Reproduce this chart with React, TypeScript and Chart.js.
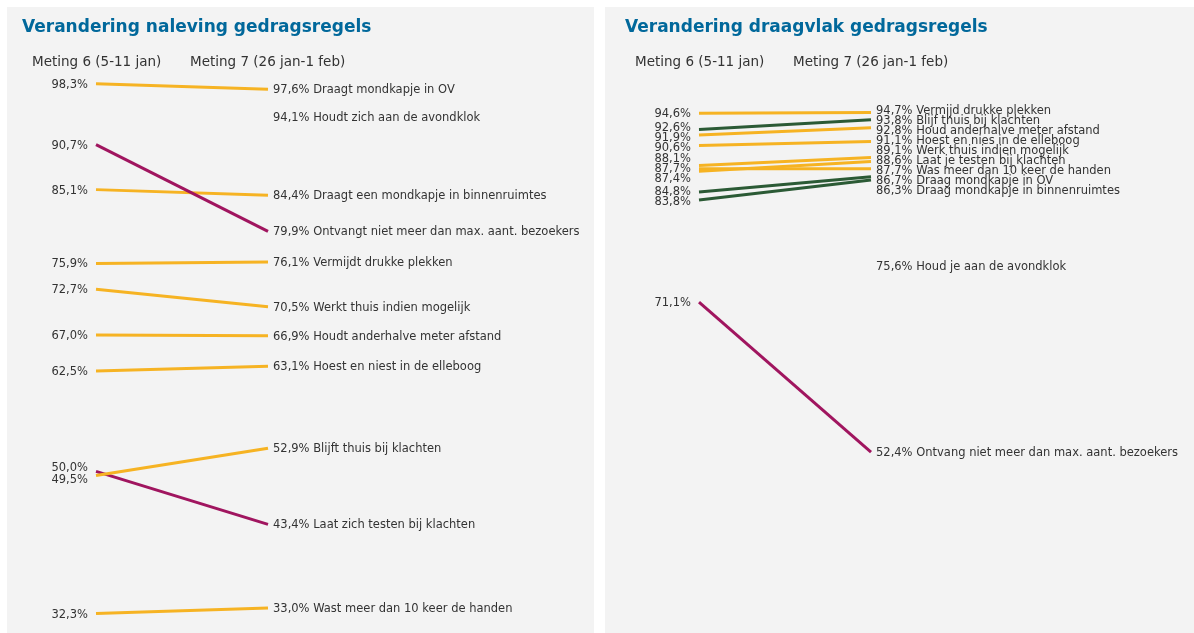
import React, { useEffect, useRef } from 'react';
import { Chart, registerables } from 'chart.js';

Chart.register(...registerables);

// ---------- data ----------
const periods = ['Meting 6 (5-11 jan)', 'Meting 7 (26 jan-1 feb)'];

const titleNaleving = 'Verandering naleving gedragsregels';
const itemsNaleving = [
  'Draagt mondkapje in OV',
  'Houdt zich aan de avondklok',
  'Ontvangt niet meer dan max. aant. bezoekers',
  'Draagt een mondkapje in binnenruimtes',
  'Vermijdt drukke plekken',
  'Werkt thuis indien mogelijk',
  'Houdt anderhalve meter afstand',
  'Hoest en niest in de elleboog',
  'Blijft thuis bij klachten',
  'Laat zich testen bij klachten',
  'Wast meer dan 10 keer de handen',
];
const m6Naleving = [98.3, null, 90.7, 85.1, 75.9, 72.7, 67.0, 62.5, 49.5, 50.0, 32.3];
const m7Naleving = [97.6, 94.1, 79.9, 84.4, 76.1, 70.5, 66.9, 63.1, 52.9, 43.4, 33.0];
const trendNaleving = ['same', 'none', 'down', 'same', 'same', 'same', 'same', 'same', 'same', 'down', 'same'];

const titleDraagvlak = 'Verandering draagvlak gedragsregels';
const itemsDraagvlak = [
  'Vermijd drukke plekken',
  'Blijf thuis bij klachten',
  'Houd anderhalve meter afstand',
  'Hoest en nies in de elleboog',
  'Werk thuis indien mogelijk',
  'Laat je testen bij klachten',
  'Was meer dan 10 keer de handen',
  'Draag mondkapje in OV',
  'Draag mondkapje in binnenruimtes',
  'Houd je aan de avondklok',
  'Ontvang niet meer dan max. aant. bezoekers',
];
const m6Draagvlak = [94.6, 92.6, 91.9, 90.6, 88.1, 87.4, 87.7, 84.8, 83.8, null, 71.1];
const m7Draagvlak = [94.7, 93.8, 92.8, 91.1, 89.1, 88.6, 87.7, 86.7, 86.3, 75.6, 52.4];
const trendDraagvlak = ['same', 'up', 'same', 'same', 'same', 'same', 'same', 'up', 'up', 'none', 'down'];

// ---------- styling ----------
const COLORS: Record<string, string> = {
  same: '#f6b323',
  up: '#2b5a35',
  down: '#a0155f',
  none: 'rgba(0,0,0,0)',
};
const Y_MIN = 30;
const Y_MAX = 100;
const CANVAS_W = 584;
const CANVAS_H = 626;
const FONT = "'DejaVu Sans', Verdana, sans-serif";

function fmt(v: number): string {
  return v.toFixed(1).replace('.', ',') + '%';
}

// spread label positions so they do not overlap, centring each cluster on its data
function spread(ys: number[], gap: number): number[] {
  const order = ys.map((_, i) => i).sort((a, b) => ys[a] - ys[b]);
  const clusters = order.map((i) => ({ idx: [i], center: ys[i] }));
  let changed = true;
  while (changed) {
    changed = false;
    for (let k = 0; k < clusters.length - 1; k++) {
      const a = clusters[k];
      const b = clusters[k + 1];
      const aBottom = a.center + ((a.idx.length - 1) * gap) / 2;
      const bTop = b.center - ((b.idx.length - 1) * gap) / 2;
      if (bTop - aBottom < gap) {
        const idx = a.idx.concat(b.idx);
        const center = idx.reduce((s, i) => s + ys[i], 0) / idx.length;
        clusters.splice(k, 2, { idx, center });
        changed = true;
        break;
      }
    }
  }
  const out: number[] = new Array(ys.length);
  clusters.forEach((c) =>
    c.idx.forEach((i, j) => {
      out[i] = c.center - ((c.idx.length - 1) * gap) / 2 + j * gap;
    })
  );
  return out;
}

type PanelProps = {
  title: string;
  items: string[];
  m6: (number | null)[];
  m7: number[];
  trend: string[];
  gap: number;
};

function SlopePanel({ title, items, m6, m7, trend, gap }: PanelProps) {
  const ref = useRef<HTMLCanvasElement>(null);

  useEffect(() => {
    if (!ref.current) return;
    const datasets = items.map((name, i) => ({
      label: name,
      data: [m6[i], m7[i]],
      borderColor: COLORS[trend[i]],
      backgroundColor: COLORS[trend[i]],
      borderWidth: 3,
      pointRadius: 0,
      pointHoverRadius: 0,
      fill: false,
      tension: 0,
      spanGaps: false,
    }));

    const labelPlugin = {
      id: 'slopeLabels',
      afterDatasetsDraw(chart: any) {
        const { ctx, chartArea, scales } = chart;
        const ys = scales.y;
        ctx.save();
        ctx.textAlign = 'left';
        ctx.textBaseline = 'alphabetic';
        ctx.fillStyle = '#01689b';
        ctx.font = `bold 17px ${FONT}`;
        ctx.fillText(title, chartArea.left - 74, 25);

        ctx.fillStyle = '#333333';
        ctx.font = `13.5px ${FONT}`;
        ctx.fillText(periods[0], chartArea.left - 64, 59);
        ctx.fillText(periods[1], chartArea.left + 94, 59);

        ctx.font = `11.5px ${FONT}`;
        ctx.textBaseline = 'middle';

        // left labels (Meting 6)
        const leftIdx = items.map((_, i) => i).filter((i) => m6[i] != null);
        const leftYs = spread(
          leftIdx.map((i) => ys.getPixelForValue(m6[i] as number)),
          gap
        );
        ctx.textAlign = 'right';
        leftIdx.forEach((i, k) => {
          ctx.fillText(fmt(m6[i] as number), chartArea.left - 8, leftYs[k] + 1);
        });

        // right labels (Meting 7)
        const rightYs = spread(
          items.map((_, i) => ys.getPixelForValue(m7[i])),
          gap
        );
        ctx.textAlign = 'left';
        items.forEach((name, i) => {
          ctx.fillText(fmt(m7[i]) + ' ' + name, chartArea.right + 5, rightYs[i] + 1);
        });
        ctx.restore();
      },
    };

    const chart = new Chart(ref.current, {
      type: 'line',
      data: { labels: periods, datasets },
      options: {
        animation: false,
        responsive: false,
        events: [],
        layout: {
          padding: { left: 89, right: CANVAS_W - 261, top: 63, bottom: CANVAS_H - 625 },
        },
        plugins: {
          legend: { display: false },
          tooltip: { enabled: false },
          title: { display: false },
        },
        scales: {
          x: { display: false },
          y: { display: false, min: Y_MIN, max: Y_MAX },
        },
      },
      plugins: [labelPlugin],
    } as any);
    return () => chart.destroy();
  }, []);

  return <canvas ref={ref} width={CANVAS_W} height={CANVAS_H} style={{ display: 'block' }} />;
}

export default function App() {
  const panelStyle: React.CSSProperties = {
    position: 'absolute',
    top: 7,
    height: 626,
    background: '#f3f3f3',
    overflow: 'hidden',
  };
  return (
    <div
      style={{
        position: 'fixed',
        left: 0,
        top: 0,
        width: 1194,
        height: 633,
        background: '#ffffff',
        overflow: 'hidden',
      }}
    >
      <div style={{ ...panelStyle, left: 7, width: 587 }}>
        <SlopePanel
          title={titleNaleving}
          items={itemsNaleving}
          m6={m6Naleving}
          m7={m7Naleving}
          trend={trendNaleving}
          gap={12}
        />
      </div>
      <div style={{ ...panelStyle, left: 605, width: 589 }}>
        <div style={{ marginLeft: 5 }}>
          <SlopePanel
            title={titleDraagvlak}
            items={itemsDraagvlak}
            m6={m6Draagvlak}
            m7={m7Draagvlak}
            trend={trendDraagvlak}
            gap={10}
          />
        </div>
      </div>
    </div>
  );
}
